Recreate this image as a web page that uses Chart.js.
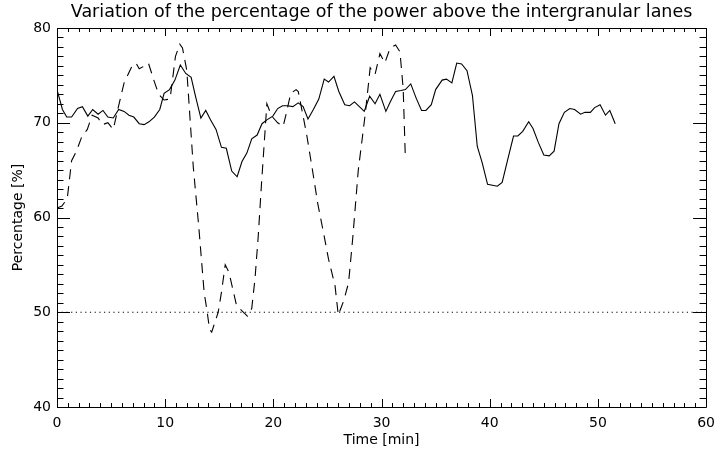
<!DOCTYPE html>
<html>
<head>
<meta charset="utf-8">
<script src="https://cdn.jsdelivr.net/npm/chart.js@4/dist/chart.umd.min.js"></script>
<style>
  html, body { margin: 0; padding: 0; background: #fff; }
  #wrap { width: 723px; height: 453px; }
</style>
</head>
<body>
<div id="wrap"><canvas id="c" width="723" height="453"></canvas></div>
<script>
// ---- data ----
const solidTime = [0.0,0.5,0.9,1.35,1.9,2.35,2.85,3.3,3.8,4.25,4.7,5.2,5.7,6.2,6.65,7.1,7.6,8.05,8.5,9.0,9.5,9.9,10.4,10.9,11.4,11.9,12.4,12.8,13.3,13.75,14.2,14.7,15.2,15.65,16.15,16.65,17.1,17.55,18.0,18.5,18.95,19.4,19.95,20.4,20.85,21.3,21.8,22.3,22.75,23.2,23.7,24.2,24.7,25.1,25.6,26.05,26.6,27.05,27.5,27.95,28.4,28.9,29.4,29.85,30.4,30.8,31.3,31.8,32.2,32.7,33.2,33.7,34.1,34.6,35.0,35.6,36.0,36.5,36.95,37.4,37.9,38.4,38.85,39.3,39.8,40.25,40.7,41.15,41.7,42.2,42.6,43.05,43.6,44.0,44.5,45.0,45.5,45.95,46.4,46.9,47.4,47.85,48.4,48.8,49.3,49.7,50.2,50.7,51.1,51.6];
const solidPct  = [73.5,71.4,70.6,70.6,71.5,71.7,70.7,71.4,70.9,71.3,70.6,70.5,71.4,71.2,70.8,70.6,69.9,69.8,70.1,70.6,71.4,73.1,73.5,74.5,76.1,75.2,74.8,72.8,70.5,71.3,70.3,69.3,67.4,67.3,64.9,64.3,65.9,66.8,68.3,68.7,69.9,70.3,70.7,71.5,71.8,71.8,71.7,72.1,71.7,70.4,71.4,72.5,74.6,74.3,74.9,73.3,71.9,71.8,72.2,71.7,71.2,72.8,72.0,73.0,71.2,72.2,73.3,73.4,73.5,74.1,72.6,71.3,71.3,71.9,73.5,74.5,74.6,74.2,76.3,76.2,75.5,72.9,67.5,65.8,63.5,63.4,63.3,63.7,66.3,68.6,68.6,69.1,70.1,69.4,67.9,66.6,66.5,67.0,69.9,71.1,71.5,71.4,70.9,71.1,71.1,71.6,71.9,70.8,71.3,69.9];

const dashedTime = [0.0,0.45,0.95,1.35,1.8,2.25,2.8,3.25,3.8,4.2,4.7,5.2,5.7,6.2,6.9,7.3,7.6,8.1,8.45,8.95,9.4,9.9,10.45,10.95,11.35,11.6,12.0,12.6,13.1,13.6,13.85,14.1,14.3,14.9,15.2,15.55,15.9,16.6,17.15,17.6,18.0,18.3,18.6,18.9,19.4,19.85,20.4,20.9,21.2,21.6,22.1,22.3,22.7,23.1,23.6,24.1,24.7,25.1,25.4,25.7,26.0,26.5,26.95,27.1,27.35,27.6,27.85,28.2,28.5,28.8,28.95,29.4,29.85,30.3,30.8,31.3,31.7,32.0,32.2];
const dashedPct  = [61.0,61.2,62.0,66.0,67.0,68.4,69.3,70.8,70.5,69.8,70.0,69.3,71.8,74.2,75.9,76.3,75.7,76.0,76.3,74.5,73.0,72.4,72.5,77.0,78.3,77.9,75.5,65.3,59.1,52.1,50.3,48.2,47.9,50.0,52.1,55.0,54.2,50.7,50.1,49.6,50.4,53.5,58.0,63.5,72.0,70.7,70.0,69.6,71.0,73.1,73.5,73.3,71.0,68.6,65.1,61.5,58.0,55.6,54.2,52.8,49.7,51.2,53.1,54.9,58.0,61.5,65.0,68.2,71.0,74.2,75.8,75.1,77.3,76.3,77.9,78.2,77.5,73.6,66.3];

const refLineTime = [0, 60];
const refLinePct  = [50, 50];

const xTicks = [0, 10, 20, 30, 40, 50, 60];
const yTicks = [40, 50, 60, 70, 80];

const titleText = 'Variation of the percentage of the power above the intergranular lanes';
const xTitle = 'Time [min]';
const yTitle = 'Percentage [%]';

// ---- build datasets ----
const toPts = (xs, ys) => xs.map((x, i) => ({ x: x, y: ys[i] }));

const FONT = "'DejaVu Sans', sans-serif";

// plugin: plot frame + inward ticks on all four sides (IDL style)
const frameTicks = {
  id: 'frameTicks',
  afterDraw(chart) {
    const { ctx, chartArea: a, scales: { x, y } } = chart;
    ctx.save();
    ctx.strokeStyle = '#000';
    ctx.lineWidth = 1;
    ctx.beginPath();
    ctx.rect(Math.round(a.left) + 0.5, Math.round(a.top) + 0.5,
             Math.round(a.right - a.left), Math.round(a.bottom - a.top));
    ctx.stroke();
    ctx.beginPath();
    for (let v = x.min; v <= x.max + 1e-9; v += 1) {
      const px = Math.round(x.getPixelForValue(v)) + 0.5;
      const len = (Math.abs(v % 10) < 1e-9) ? 8 : 4;
      ctx.moveTo(px, a.bottom); ctx.lineTo(px, a.bottom - len);
      ctx.moveTo(px, a.top); ctx.lineTo(px, a.top + len);
    }
    for (let v = y.min; v <= y.max + 1e-9; v += 1) {
      const py = Math.round(y.getPixelForValue(v)) + 0.5;
      const len = (Math.abs(v % 10) < 1e-9) ? 13 : 6.5;
      ctx.moveTo(a.left, py); ctx.lineTo(a.left + len, py);
      ctx.moveTo(a.right, py); ctx.lineTo(a.right - len, py);
    }
    ctx.stroke();
    ctx.restore();
  }
};

new Chart(document.getElementById('c'), {
  type: 'line',
  data: {
    datasets: [
      {
        data: toPts(solidTime, solidPct),
        borderColor: '#000', borderWidth: 1.1, pointRadius: 0, tension: 0, fill: false
      },
      {
        data: toPts(dashedTime, dashedPct),
        borderColor: '#000', borderWidth: 1.1, borderDash: [10, 7], pointRadius: 0, tension: 0, fill: false
      },
      {
        data: toPts(refLineTime, refLinePct),
        borderColor: '#000', borderWidth: 1.2, borderDash: [1.2, 3.5], pointRadius: 0, tension: 0, fill: false
      }
    ]
  },
  options: {
    responsive: false,
    animation: false,
    devicePixelRatio: 1,
    layout: { padding: { left: 0, right: 10, top: 0, bottom: 0 } },
    plugins: {
      legend: { display: false },
      tooltip: { enabled: false },
      title: {
        display: true,
        text: titleText,
        fullSize: false,
        color: '#000',
        font: { family: FONT, size: 17.5, weight: 'normal' },
        padding: { top: 1.5, bottom: 5.5 }
      }
    },
    scales: {
      x: {
        type: 'linear',
        min: 0, max: 60,
        afterFit: s => { s.height = 46; },
        afterBuildTicks: s => { s.ticks = xTicks.map(v => ({ value: v })); },
        grid: { display: false, drawTicks: false },
        border: { display: false },
        ticks: { color: '#000', font: { family: FONT, size: 14 }, padding: 8, maxRotation: 0, autoSkip: false },
        title: { display: true, text: xTitle, color: '#000', font: { family: FONT, size: 14 }, padding: { top: 0, bottom: 4.6 } }
      },
      y: {
        min: 40, max: 80,
        afterFit: s => { s.width = 57; },
        afterBuildTicks: s => { s.ticks = yTicks.map(v => ({ value: v })); },
        grid: { display: false, drawTicks: false },
        border: { display: false },
        ticks: { color: '#000', font: { family: FONT, size: 14 }, padding: 6 },
        title: { display: true, text: yTitle, color: '#000', font: { family: FONT, size: 14 }, padding: { top: 9.6, bottom: 0 } }
      }
    }
  },
  plugins: [frameTicks]
});
</script>
</body>
</html>
